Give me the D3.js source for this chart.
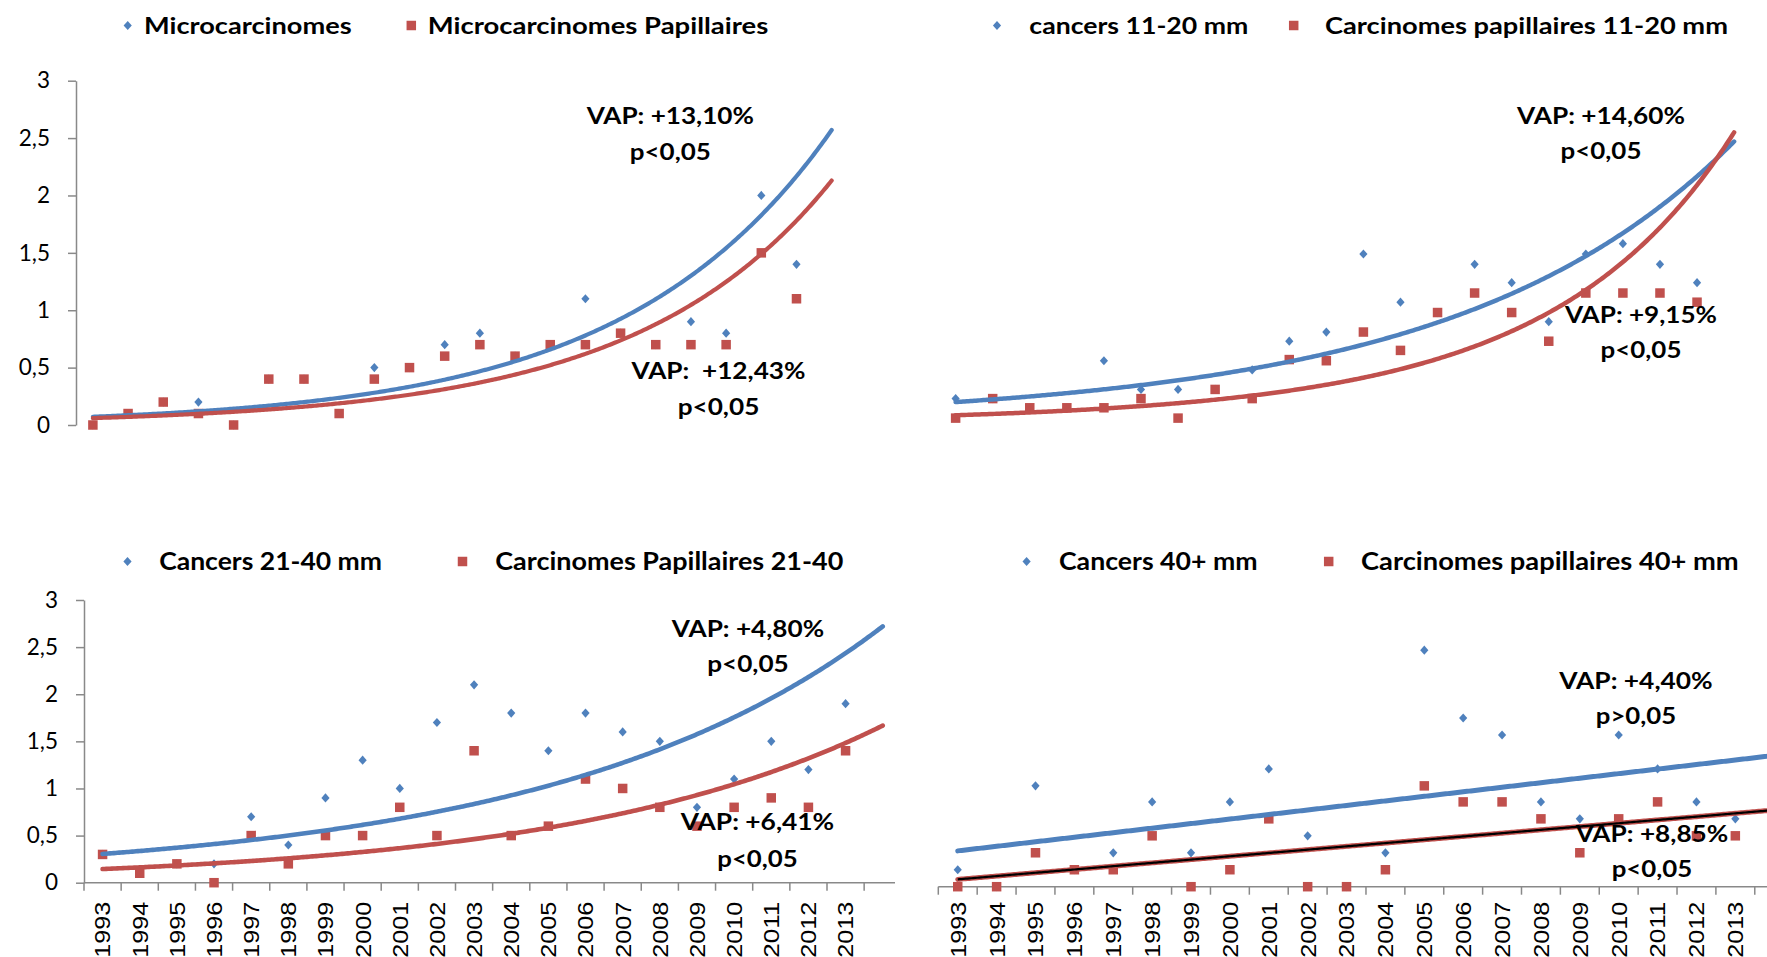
<!DOCTYPE html>
<html>
<head>
<meta charset="utf-8">
<script src="https://cdn.jsdelivr.net/npm/d3@7"></script>
<style>
  html, body { margin: 0; padding: 0; background: #fff; }
  svg { display: block; }
  text { white-space: pre; }
</style>
</head>
<body>
<svg id="chart" width="1767" height="957"></svg>
<script>
// ---- Data -------------------------------------------------------------
const years = ["1993","1994","1995","1996","1997","1998","1999","2000","2001","2002","2003",
               "2004","2005","2006","2007","2008","2009","2010","2011","2012","2013"];

const yTickValues = [0, 0.5, 1, 1.5, 2, 2.5, 3];
const yTickLabels = ["0", "0,5", "1", "1,5", "2", "2,5", "3"];

// Microcarcinomes (<= 10 mm)
const microAll = [0, 0.1, 0.2, 0.2, 0, 0.4, 0.4, 0.1, 0.5, 0.5, 0.7, 0.8, 0.6, 0.7, 1.1, 0.8, 0.7, 0.9, 0.8, 2.0, 1.4];
const microPap = [0, 0.1, 0.2, 0.1, 0, 0.4, 0.4, 0.1, 0.4, 0.5, 0.6, 0.7, 0.6, 0.7, 0.7, 0.8, 0.7, 0.7, 0.7, 1.5, 1.1];
// exponential trend values at 1993, mid-period and 2014
const microAllTrend = [0.072, 0.43, 2.57];
const microPapTrend = [0.06, 0.34, 2.13];

// Cancers 11-20 mm
const c1120All = [0.23, 0.23, 0.15, 0.15, 0.56, 0.31, 0.31, 0.31, 0.48, 0.73, 0.81, 1.49, 1.07, 0.98, 1.40, 1.24, 0.90, 1.49, 1.58, 1.40, 1.24];
const c1120Pap = [0.06, 0.23, 0.15, 0.15, 0.15, 0.23, 0.06, 0.31, 0.23, 0.57, 0.56, 0.81, 0.65, 0.98, 1.15, 0.98, 0.73, 1.15, 1.15, 1.15, 1.07];
const c1120AllTrend = [0.2, 0.66, 2.47];
const c1120PapTrend = [0.085, 0.38, 2.55];

// Cancers 21-40 mm
const c2140All = [0.3, 0.1, 0.2, 0.2, 0.7, 0.4, 0.9, 1.3, 1.0, 1.7, 2.1, 1.8, 1.4, 1.8, 1.6, 1.5, 0.8, 1.1, 1.5, 1.2, 1.9];
const c2140Pap = [0.3, 0.1, 0.2, 0, 0.5, 0.2, 0.5, 0.5, 0.8, 0.5, 1.4, 0.5, 0.6, 1.1, 1.0, 0.8, 0.6, 0.8, 0.9, 0.8, 1.4];
const c2140AllTrend = [0.305, 0.88, 2.72];
const c2140PapTrend = [0.145, 0.49, 1.667];

// Cancers 40+ mm (linear trends are fitted from these values)
const c40All = [0.18, 0, 1.07, 0.18, 0.36, 0.9, 0.36, 0.9, 1.25, 0.54, 0, 0.36, 2.51, 1.79, 1.61, 0.9, 0.72, 1.61, 1.25, 0.9, 0.72];
const c40Pap = [0, 0, 0.36, 0.18, 0.18, 0.54, 0, 0.18, 0.72, 0, 0, 0.18, 1.07, 0.9, 0.9, 0.72, 0.36, 0.72, 0.9, 0.54, 0.54];

// ---- Style ------------------------------------------------------------
const BLUE = "#4F81BD";
const RED = "#C0504D";
const AXIS = "#898989";
const BOLD_FONT = "Lato, 'Open Sans', sans-serif";
const AXIS_FONT = "'Liberation Sans', Arial, sans-serif";
const N_SLOTS = 22;            // 21 years plus one slot for the trend forecast

// ---- Trend helpers ----------------------------------------------------
// Smooth growth curve through three values (start, middle, end), in log space
function growthCurve(anchors) {
  const [l0, l1, l2] = anchors.map(Math.log);
  return t => {
    const s = t / (N_SLOTS - 1);
    return Math.exp(l0 * 2 * (s - 0.5) * (s - 1) - l1 * 4 * s * (s - 1) + l2 * 2 * s * (s - 0.5));
  };
}
// Least-squares straight line over the yearly values
function linearFit(values) {
  const ts = values.map((_, i) => i);
  const mt = d3.mean(ts), mv = d3.mean(values);
  const sxy = d3.sum(ts, (t, i) => (t - mt) * (values[i] - mv));
  const sxx = d3.sum(ts, t => (t - mt) ** 2);
  const b = sxy / sxx, a = mv - b * mt;
  return t => a + b * t;
}

// ---- Panels -----------------------------------------------------------
const panels = [
  {
    series: [
      { name: "Microcarcinomes", values: microAll, color: BLUE, shape: "diamond", trend: growthCurve(microAllTrend) },
      { name: "Microcarcinomes Papillaires", values: microPap, color: RED, shape: "square", trend: growthCurve(microPapTrend) }
    ],
    xStart: 75.3, xStep: 35.18, yRange: [425, 80.7], trendWidth: 4.2,
    yAxisX: 76, xAxis: null,
    legend: { my: 25.5, base: 33.5, size: 23.5, items: [
      { mx: 127.7, tx: 144, tw: 207.7 }, { mx: 411.3, tx: 427.7, tw: 340.6 } ] },
    notes: [
      { cx: 670.3, lines: [["VAP: +13,10%", 124.3, 167.3], ["p<0,05", 160, 81]] },
      { cx: 718.5, lines: [["VAP:  +12,43%", 379.3, 174], ["p<0,05", 415, 81.7]] }
    ]
  },
  {
    series: [
      { name: "cancers 11-20 mm", values: c1120All, color: BLUE, shape: "diamond", trend: growthCurve(c1120AllTrend) },
      { name: "Carcinomes papillaires 11-20 mm", values: c1120Pap, color: RED, shape: "square", trend: growthCurve(c1120PapTrend) }
    ],
    xStart: 937.1, xStep: 37.07, yRange: [425, 80.7], trendWidth: 4.5,
    yAxisX: null, xAxis: null,
    legend: { my: 25.5, base: 33.5, size: 23.5, items: [
      { mx: 997, tx: 1029.3, tw: 219 }, { mx: 1293.7, tx: 1325, tw: 403 } ] },
    notes: [
      { cx: 1601, lines: [["VAP: +14,60%", 123.5, 167.8], ["p<0,05", 158.5, 80.8]] },
      { cx: 1641, lines: [["VAP: +9,15%", 322.7, 152], ["p<0,05", 357.5, 80.8]] }
    ]
  },
  {
    series: [
      { name: "Cancers 21-40 mm", values: c2140All, color: BLUE, shape: "diamond", trend: growthCurve(c2140AllTrend) },
      { name: "Carcinomes Papillaires 21-40", values: c2140Pap, color: RED, shape: "square", trend: growthCurve(c2140PapTrend) }
    ],
    xStart: 84, xStep: 37.15, yRange: [882.7, 600], trendWidth: 4.6,
    yAxisX: 84, xAxis: { end: 895, labelGap: 19 },
    legend: { my: 561.5, base: 570, size: 24.5, items: [
      { mx: 127.5, tx: 159.2, tw: 222.8 }, { mx: 462.5, tx: 495.3, tw: 348 } ] },
    notes: [
      { cx: 748, lines: [["VAP: +4,80%", 636.7, 152.3], ["p<0,05", 671.7, 81.6]] },
      { cx: 757.5, lines: [["VAP: +6,41%", 830, 153.4], ["p<0,05", 866.7, 80.5]] }
    ]
  },
  {
    series: [
      { name: "Cancers 40+ mm", values: c40All, color: BLUE, shape: "diamond", trend: linearFit(c40All) },
      { name: "Carcinomes papillaires 40+ mm", values: c40Pap, color: RED, shape: "square", trend: linearFit(c40Pap), core: "#000" }
    ],
    xStart: 938.3, xStep: 38.88, yRange: [886.7, 604], trendWidth: 5,
    yAxisX: null, xAxis: { end: 1767, labelGap: 15 },
    legend: { my: 561.5, base: 570, size: 24.5, items: [
      { mx: 1026.6, tx: 1059, tw: 198.5 }, { mx: 1328.7, tx: 1361, tw: 377.7 } ] },
    notes: [
      { cx: 1636, lines: [["VAP: +4,40%", 689.3, 153.4], ["p>0,05", 724, 80.3]] },
      { cx: 1652, lines: [["VAP: +8,85%", 841.7, 152.6], ["p<0,05", 876.7, 80.6]] }
    ]
  }
];

// ---- Drawing ----------------------------------------------------------
const svg = d3.select("#chart");
svg.append("rect").attr("width", 1767).attr("height", 957).attr("fill", "#fff");

function markerPath(shape) {
  return shape === "diamond"
    ? "M0,-4.6L4.1,0L0,4.6L-4.1,0Z"
    : "M-4.75,-4.75h9.5v9.5h-9.5Z";
}

panels.forEach(p => {
  const g = svg.append("g");
  const slots = d3.range(N_SLOTS);
  const x = d3.scaleBand().domain(slots).range([p.xStart, p.xStart + N_SLOTS * p.xStep]);
  const cx = i => x(i) + x.bandwidth() / 2;
  const xt = d3.scaleLinear().domain([0, N_SLOTS - 1]).range([cx(0), cx(N_SLOTS - 1)]);
  const y = d3.scaleLinear().domain([0, 3]).range(p.yRange);

  // y axis
  if (p.yAxisX !== null) {
    const ya = g.append("g")
      .attr("transform", `translate(${p.yAxisX},0)`)
      .call(d3.axisLeft(y).tickValues(yTickValues)
        .tickFormat((d, i) => yTickLabels[i])
        .tickSize(8).tickSizeOuter(0).tickPadding(18));
    ya.selectAll("path, line").attr("stroke", AXIS).attr("stroke-width", 1.5);
    ya.selectAll("text").attr("font-family", BOLD_FONT).attr("font-size", 22.5).attr("fill", "#000");
  }

  // category axis with ticks between years
  if (p.xAxis) {
    const y0 = y(0);
    const xa = g.append("g");
    xa.append("line").attr("x1", x.range()[0]).attr("x2", p.xAxis.end)
      .attr("y1", y0).attr("y2", y0).attr("stroke", AXIS).attr("stroke-width", 1.5);
    const bounds = slots.map(i => x(i)).concat([x.range()[1]]).filter(v => v <= p.xAxis.end);
    xa.selectAll("line.tick").data(bounds).join("line").attr("class", "tick")
      .attr("x1", d => d).attr("x2", d => d).attr("y1", y0).attr("y2", y0 + 8)
      .attr("stroke", AXIS).attr("stroke-width", 1.5);
    xa.selectAll("text").data(years).join("text")
      .attr("transform", (d, i) => `translate(${cx(i) + 7.9},${y0 + p.xAxis.labelGap}) rotate(-90)`)
      .attr("text-anchor", "end")
      .attr("font-family", AXIS_FONT).attr("font-size", 22).attr("fill", "#000")
      .attr("textLength", 56).attr("lengthAdjust", "spacingAndGlyphs")
      .text(d => d);
  }

  // markers
  p.series.forEach(s => {
    g.append("g").selectAll("path").data(s.values).join("path")
      .attr("transform", (d, i) => `translate(${cx(i)},${y(d)})`)
      .attr("d", markerPath(s.shape))
      .attr("fill", s.color);
  });

  // trend lines
  const ts = d3.range(0, N_SLOTS - 1 + 1e-9, 0.05);
  p.series.forEach(s => {
    const line = d3.line().x(t => xt(t)).y(t => y(s.trend(t)));
    g.append("path").datum(ts).attr("d", line).attr("fill", "none")
      .attr("stroke", s.color).attr("stroke-width", p.trendWidth)
      .attr("stroke-linecap", "round");
    if (s.core) {
      g.append("path").datum(ts).attr("d", line).attr("fill", "none")
        .attr("stroke", s.core).attr("stroke-width", 2.2);
    }
  });

  // legend
  p.series.forEach((s, i) => {
    const it = p.legend.items[i];
    g.append("path").attr("transform", `translate(${it.mx},${p.legend.my})`)
      .attr("d", markerPath(s.shape)).attr("fill", s.color);
    g.append("text").attr("x", it.tx).attr("y", p.legend.base)
      .attr("font-family", BOLD_FONT).attr("font-weight", 700)
      .attr("font-size", p.legend.size).attr("fill", "#000")
      .attr("textLength", it.tw).attr("lengthAdjust", "spacingAndGlyphs")
      .text(s.name);
  });

  // annual percent change notes
  p.notes.forEach(n => {
    n.lines.forEach(([txt, base, w]) => {
      g.append("text").attr("x", n.cx - w / 2).attr("y", base)
        .attr("font-family", BOLD_FONT).attr("font-weight", 700)
        .attr("font-size", 22.5).attr("fill", "#000")
        .attr("textLength", w).attr("lengthAdjust", "spacingAndGlyphs")
        .text(txt);
    });
  });
});
</script>
</body>
</html>
